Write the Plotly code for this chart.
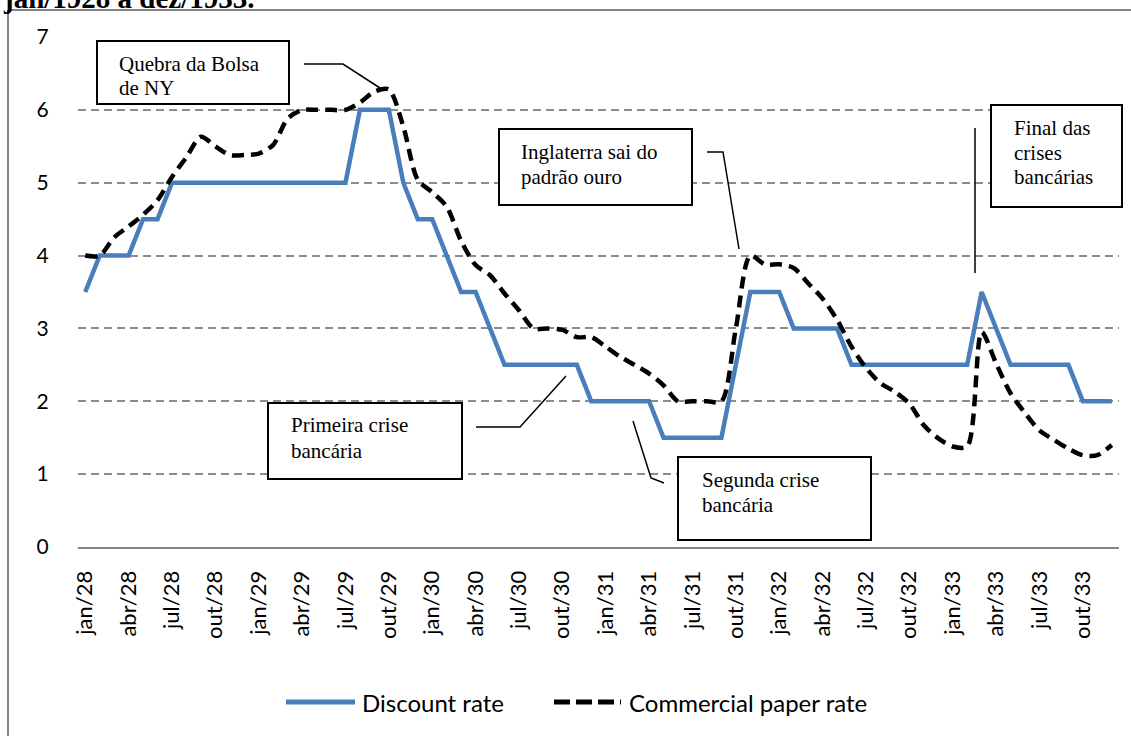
import plotly.graph_objects as go

# Monthly series, jan/1928 .. dez/1933 (72 months)
month_index = list(range(72))
tick_positions = [0, 3, 6, 9, 12, 15, 18, 21, 24, 27, 30, 33, 36, 39, 42, 45, 48, 51, 54, 57, 60, 63, 66, 69]
tick_labels = ["jan/28", "abr/28", "jul/28", "out/28", "jan/29", "abr/29", "jul/29", "out/29",
               "jan/30", "abr/30", "jul/30", "out/30", "jan/31", "abr/31", "jul/31", "out/31",
               "jan/32", "abr/32", "jul/32", "out/32", "jan/33", "abr/33", "jul/33", "out/33"]

discount_rate = [3.5, 4, 4, 4, 4.5, 4.5, 5, 5, 5, 5, 5, 5,
                 5, 5, 5, 5, 5, 5, 5, 6, 6, 6, 5, 4.5,
                 4.5, 4, 3.5, 3.5, 3, 2.5, 2.5, 2.5, 2.5, 2.5, 2.5, 2,
                 2, 2, 2, 2, 1.5, 1.5, 1.5, 1.5, 1.5, 2.5, 3.5, 3.5,
                 3.5, 3, 3, 3, 3, 2.5, 2.5, 2.5, 2.5, 2.5, 2.5, 2.5,
                 2.5, 2.5, 3.5, 3, 2.5, 2.5, 2.5, 2.5, 2.5, 2, 2, 2]

commercial_paper_rate = [4.0, 4.0, 4.25, 4.4, 4.56, 4.76, 5.08, 5.35, 5.63, 5.5, 5.38, 5.38,
                         5.4, 5.52, 5.88, 6.0, 6.0, 6.0, 6.0, 6.1, 6.25, 6.28, 5.77, 5.04,
                         4.87, 4.67, 4.2, 3.87, 3.73, 3.48, 3.25, 3.0, 3.0, 2.98, 2.88, 2.88,
                         2.75, 2.61, 2.5, 2.38, 2.22, 2.0, 2.0, 2.0, 2.0, 3.0, 4.0, 3.88,
                         3.88, 3.83, 3.62, 3.41, 3.12, 2.75, 2.46, 2.25, 2.13, 1.97, 1.67, 1.49,
                         1.38, 1.38, 2.95, 2.52, 2.11, 1.84, 1.6, 1.47, 1.35, 1.26, 1.26, 1.40]

series_names = ["Discount rate", "Commercial paper rate"]

# Page / plot-area geometry in pixels
W, H = 1131, 736
ML, MR, MT, MB = 78, 12, 37, 189
PW, PH = W - ML - MR, H - MT - MB


def px(x):
    return (x - ML) / PW


def py(y):
    return (MT + PH - y) / PH


BLUE = "#4a7ebb"
SERIF = "Liberation Serif, Times New Roman, serif"
SANS = "Lato, Calibri, sans-serif"

fig = go.Figure()
fig.add_trace(go.Scatter(x=month_index, y=discount_rate, mode="lines", name=series_names[0],
                         line=dict(color=BLUE, width=4.5), hoverinfo="skip"))
fig.add_trace(go.Scatter(x=month_index, y=commercial_paper_rate, mode="lines", name=series_names[1],
                         line=dict(color="black", width=4.5, dash="12px,7px", shape="spline", smoothing=0.8),
                         hoverinfo="skip"))

shapes = []
annotations = []

# Outer frame (left and top edges)
shapes.append(dict(type="line", xref="paper", yref="paper", x0=px(8), x1=px(8), y0=py(10), y1=py(740),
                   line=dict(color="#868686", width=2)))
shapes.append(dict(type="line", xref="paper", yref="paper", x0=px(8), x1=px(1140), y0=py(10), y1=py(10),
                   line=dict(color="#868686", width=2)))

# Title line at the top of the frame
annotations.append(dict(text="<b>jan/1928 a dez/1933.</b>", xref="paper", yref="paper",
                        x=px(1), y=py(-2), xanchor="left", yanchor="middle", showarrow=False,
                        font=dict(family=SERIF, size=29, color="black")))

# Callout boxes: (left, top, right, bottom), text lines [(x, y_center, text)], leader polyline
callouts = [
    ((97, 41, 289, 104), [(117, 64, "Quebra da Bolsa"), (117, 88, "de NY")],
     [(304, 64), (343, 64), (380, 88)]),
    ((499, 129, 692, 205), [(519, 152, "Inglaterra sai do"), (519, 177, "padrão ouro")],
     [(707, 152), (723, 152), (739, 249)]),
    ((991, 105, 1122, 207), [(1012, 128, "Final das"), (1012, 153, "crises"), (1012, 177, "bancárias")],
     [(975, 128), (975, 273)]),
    ((268, 403, 462, 479), [(289, 425, "Primeira crise"), (289, 451, "bancária")],
     [(476, 427), (520, 427), (566, 376)]),
    ((678, 457, 871, 540), [(700, 480, "Segunda crise"), (700, 505, "bancária")],
     [(633, 421), (651, 478), (664, 483)]),
]

for (l, t, r, b), lines, leader in callouts:
    shapes.append(dict(type="rect", xref="paper", yref="paper", x0=px(l), x1=px(r), y0=py(b), y1=py(t),
                       line=dict(color="black", width=2), fillcolor="white", layer="above"))
    for (tx, ty, txt) in lines:
        annotations.append(dict(text=txt, xref="paper", yref="paper", x=px(tx), y=py(ty),
                                xanchor="left", yanchor="middle", showarrow=False,
                                font=dict(family=SERIF, size=21, color="black")))
    path = "M " + " L ".join(f"{px(a)},{py(c)}" for a, c in leader)
    shapes.append(dict(type="path", xref="paper", yref="paper", path=path,
                       line=dict(color="black", width=1.5), layer="above"))

# Legend drawn below the axis
leg_y = 702
shapes.append(dict(type="line", xref="paper", yref="paper", x0=px(286), x1=px(355), y0=py(leg_y), y1=py(leg_y),
                   line=dict(color=BLUE, width=5)))
shapes.append(dict(type="line", xref="paper", yref="paper", x0=px(554), x1=px(621), y0=py(leg_y), y1=py(leg_y),
                   line=dict(color="black", width=5, dash="16px,6px")))
annotations.append(dict(text=series_names[0], xref="paper", yref="paper", x=px(360), y=py(leg_y),
                        xanchor="left", yanchor="middle", showarrow=False,
                        font=dict(family=SANS, size=24, color="black")))
annotations.append(dict(text=series_names[1], xref="paper", yref="paper", x=px(627), y=py(leg_y),
                        xanchor="left", yanchor="middle", showarrow=False,
                        font=dict(family=SANS, size=24, color="black")))

fig.update_layout(
    width=W, height=H,
    margin=dict(l=ML, r=MR, t=MT, b=MB, pad=0),
    paper_bgcolor="white", plot_bgcolor="white",
    showlegend=False,
    shapes=shapes,
    annotations=annotations,
    xaxis=dict(range=[-0.5, 71.5], tickmode="array", tickvals=tick_positions, ticktext=tick_labels,
               tickangle=-90, showgrid=False, zeroline=False,
               showline=True, linecolor="#868686", linewidth=2,
               ticks="outside", ticklen=13, tickcolor="rgba(0,0,0,0)",
               tickfont=dict(family=SANS, size=22, color="black")),
    yaxis=dict(range=[0, 7], tickvals=[0, 1, 2, 3, 4, 5, 6, 7], showgrid=True,
               gridcolor="#8c8c8c", griddash="8px,5px", gridwidth=1.5, zeroline=False, showline=False,
               ticks="outside", ticklen=24, tickcolor="rgba(0,0,0,0)",
               tickfont=dict(family=SANS, size=21, color="black")),
)

fig.write_html("out.html")
